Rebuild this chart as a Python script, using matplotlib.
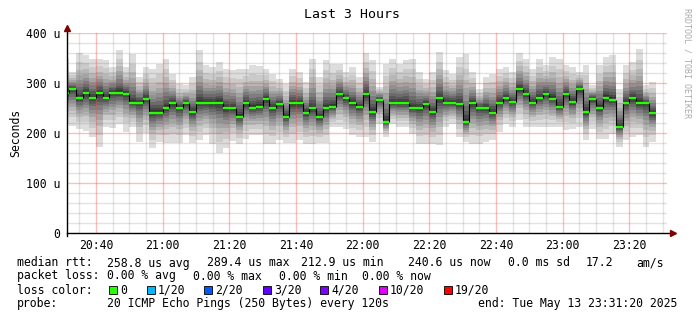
import numpy as np
import matplotlib
matplotlib.use("Agg")
import matplotlib.pyplot as plt
from matplotlib.patches import Rectangle

W, H = 697, 321

# time axis in minutes since midnight, one column every 2 minutes
x_start = 20 * 60 + 31 + 20 / 60   # 20:31:20
x_end = 23 * 60 + 31 + 20 / 60     # 23:31:20
col_first = 1230
col_step = 2

# median rtt per column (us)
median = [281, 289, 271, 280, 271, 280, 271, 281, 281, 279, 261, 261, 269, 241, 241, 251,
          260, 251, 260, 242, 261, 261, 261, 261, 251, 250, 233, 260, 251, 253, 269,
          251, 259, 233, 260, 260, 241, 250, 232, 251, 253, 279, 270, 260, 253, 278,
          242, 267, 222, 260, 260, 260, 251, 251, 259, 242, 270, 261, 261, 258, 222,
          260, 251, 251, 241, 261, 270, 262, 288, 279, 261, 271, 279, 269, 252, 279,
          262, 288, 242, 269, 251, 271, 267, 213, 261, 270, 260, 260, 240]

# slowest ping per column (top of smoke)
smoke_top = [350, 323, 361, 356, 349, 349, 346, 333, 367, 333, 359, 313, 333, 329, 339, 349,
             319, 299, 296, 313, 366, 336, 333, 343, 329, 326, 329, 329, 336, 334, 329,
             319, 309, 299, 329, 323, 303, 349, 313, 346, 339, 339, 323, 333, 313, 361,
             347, 293, 339, 349, 339, 346, 349, 323, 309, 323, 363, 326, 319, 353, 359,
             323, 289, 313, 319, 329, 333, 323, 361, 349, 329, 349, 336, 353, 349, 336,
             333, 323, 336, 296, 336, 353, 356, 289, 336, 343, 369, 296, 303]

# fastest ping per column (bottom of smoke)
smoke_bottom = [219, 215, 209, 205, 193, 173, 213, 210, 219, 203, 212, 183, 200, 171, 183, 181,
                181, 181, 196, 181, 186, 196, 179, 161, 171, 185, 179, 189, 196, 196, 179,
                179, 186, 181, 181, 186, 179, 179, 181, 181, 212, 212, 209, 196, 193, 193,
                183, 219, 193, 219, 213, 213, 199, 179, 179, 179, 176, 213, 219, 193, 183,
                179, 179, 183, 186, 203, 219, 213, 226, 213, 213, 213, 213, 213, 213, 206,
                209, 213, 186, 209, 189, 189, 199, 173, 186, 193, 196, 173, 183]

xticks = [1240, 1260, 1280, 1300, 1320, 1340, 1360, 1380, 1400]
xlabels = ["20:40", "21:00", "21:20", "21:40", "22:00", "22:20", "22:40", "23:00", "23:20"]
yticks = [0, 100, 200, 300, 400]
ylabels = ["0", "100 u", "200 u", "300 u", "400 u"]

loss_labels = ["0", "1/20", "2/20", "3/20", "4/20", "10/20", "19/20"]
loss_colors = ["#26ff00", "#00b8ff", "#0059ff", "#5e00ff", "#7e00ff", "#dd00ff", "#ff0000"]

mono = "DejaVu Sans Mono"
fs = 8.3

fig = plt.figure(figsize=(W / 100, H / 100), dpi=100)
ax = fig.add_axes([67 / W, (H - 233) / H, 600 / W, 200 / H])

med = np.array(median, dtype=float)
hi = np.array(smoke_top, dtype=float)
lo = np.array(smoke_bottom, dtype=float)
left = col_first + col_step * np.arange(len(med))

# smoke: nested bands, lighter outside, darker near the median
spread = [1.0, 0.78, 0.62, 0.5, 0.4, 0.31, 0.23, 0.16, 0.1, 0.05]
for i, f in enumerate(spread):
    g = (190 / 10 * (10 - (i + 1)) + 50) / 255
    b_lo = med - (med - lo) * f
    b_hi = med + (hi - med) * f
    ax.bar(left, b_hi - b_lo, bottom=b_lo, width=col_step, align="edge",
           color=(g, g, g), linewidth=0, zorder=1)

# grid drawn over the smoke, like rrdtool
minor_c = (0.45, 0.45, 0.45, 0.2)
major_c = (1.0, 0.25, 0.25, 0.35)
for t in range(1235, 1411, 5):
    if t not in xticks:
        ax.axvline(t, color=minor_c, lw=1.0, zorder=2, snap=True)
for v in range(20, 401, 20):
    if v not in yticks:
        ax.axhline(v, color=minor_c, lw=1.0, zorder=2, snap=True)
for t in xticks:
    ax.axvline(t, color=major_c, lw=1.0, zorder=2, snap=True)
for v in yticks[1:]:
    ax.axhline(v, color=major_c, lw=1.0, zorder=2, snap=True)

# median: black risers, green steps
ax.vlines(left[1:], np.minimum(med[:-1], med[1:]), np.maximum(med[:-1], med[1:]),
          color="black", lw=0.8, zorder=4)
ax.hlines(med, left, left + col_step, color=loss_colors[0], lw=1.7, zorder=5)

ax.set_xlim(x_start, x_end)
ax.set_ylim(0, 400)
ax.set_xticks(xticks)
ax.set_xticklabels(xlabels, family=mono, fontsize=fs)
ax.set_yticks(yticks)
ax.set_yticklabels(ylabels, family=mono, fontsize=fs)
ax.tick_params(which="both", length=0)
ax.tick_params(axis="x", pad=4)
ax.tick_params(axis="y", pad=5)

for s in ["top", "right", "left", "bottom"]:
    ax.spines[s].set_visible(False)
ax.plot([0, 0], [-0.015, 1.02], transform=ax.transAxes, color="black", lw=1, clip_on=False, zorder=6)
ax.plot([0, 1.01], [0, 0], transform=ax.transAxes, color="black", lw=1, clip_on=False, zorder=6)
ax.plot([0], [1.025], marker="^", ms=4, color="#7f0000", transform=ax.transAxes, clip_on=False, zorder=7)
ax.plot([1.01], [0], marker=">", ms=4, color="#7f0000", transform=ax.transAxes, clip_on=False, zorder=7)


def txt(x, y, s, **kw):
    kw.setdefault("family", mono)
    kw.setdefault("fontsize", fs)
    kw.setdefault("va", "center")
    fig.text(x / W, 1 - y / H, s, **kw)


txt(352, 15, "Last 3 Hours", ha="center", fontsize=9.5)
txt(16, 133, "Seconds", ha="center", rotation=90)
txt(687, 63, "RRDTOOL / TOBI OETIKER", ha="center", rotation=270, fontsize=6, color="#aaaaaa")

# legend lines
txt(17, 263, "median rtt:")
txt(107, 263, "258.8 us avg")
txt(207, 263, "289.4 us max")
txt(301, 263, "212.9 us min")
txt(408, 263, "240.6 us now")
txt(508, 263, "0.0 ms sd")
txt(586, 263, "17.2")
txt(636, 263, "am/s")

txt(17, 276, "packet loss:")
txt(107, 276, "0.00 % avg")
txt(193, 276, "0.00 % max")
txt(279, 276, "0.00 % min")
txt(362, 276, "0.00 % now")

txt(17, 290, "loss color:")
sq_x = [109, 147, 204, 263, 320, 379, 444]
for x, lab, c in zip(sq_x, loss_labels, loss_colors):
    fig.patches.append(Rectangle((x / W, 1 - 294 / H), 8 / W, 8 / H, facecolor=c,
                                 edgecolor="black", lw=0.6, transform=fig.transFigure))
    txt(x + 11, 290, lab)

txt(17, 303, "probe:")
txt(107, 303, "20 ICMP Echo Pings (250 Bytes) every 120s")
txt(478, 303, "end: Tue May 13 23:31:20 2025")

fig.savefig("out.png", dpi=100)
